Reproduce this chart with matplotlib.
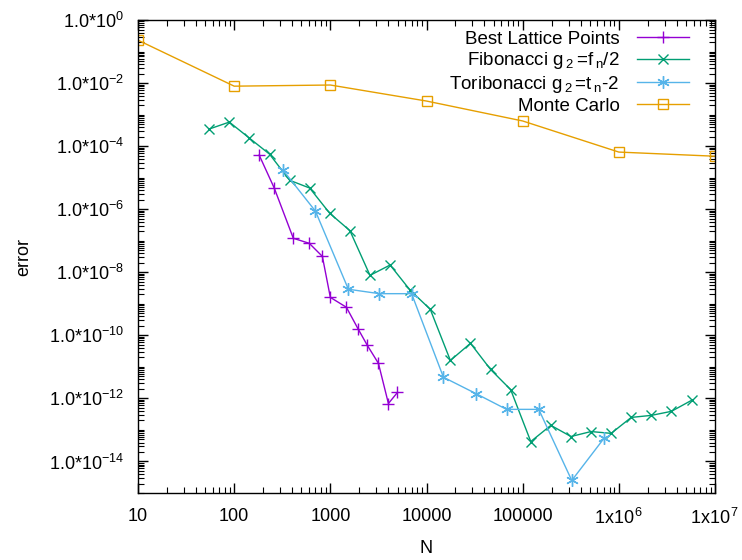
import matplotlib
matplotlib.use("Agg")
import matplotlib.pyplot as plt
import matplotlib.ticker as ticker
import numpy as np

plt.rcParams['font.family'] = ['Liberation Sans', 'DejaVu Sans']
plt.rcParams['mathtext.fontset'] = 'custom'
plt.rcParams['mathtext.rm'] = 'Liberation Sans'
plt.rcParams['mathtext.it'] = 'Liberation Sans'

# best lattice points
n_best = [182, 261, 412, 604, 826, 1000, 1468, 1955, 2426, 3162, 4017, 4990]
err_best = [5.2e-5, 4.7e-6, 1.2e-7, 8.3e-8, 3.2e-8, 1.6e-9, 7.8e-10, 1.55e-10,
            4.8e-11, 1.3e-11, 6.9e-13, 1.55e-12]

# fibonacci
n_fib = [55, 89, 144, 233, 377, 610, 987, 1597, 2584, 4181, 6765, 10946, 17711,
         28657, 46368, 75025, 121393, 196418, 317811, 514229, 832040, 1346269,
         2178309, 3524578, 5702887]
err_fib = [3.5e-4, 5.8e-4, 1.8e-4, 5.6e-5, 8.3e-6, 4.7e-6, 7.4e-7, 2.1e-7, 8e-9,
           1.7e-8, 2.7e-9, 6.7e-10, 1.6e-11, 5.6e-11, 8.3e-12, 1.9e-12, 4.3e-14,
           1.4e-13, 6.2e-14, 8.9e-14, 7.8e-14, 2.5e-13, 2.9e-13, 3.9e-13, 8.7e-13]

# toribonacci
n_tri = [324, 700, 1540, 3240, 7000, 15000, 33000, 68000, 147000, 324000, 700000]
err_tri = [1.7e-5, 8.7e-7, 2.9e-9, 2.1e-9, 2.1e-9, 4.7e-12, 1.4e-12, 4.5e-13,
           4.5e-13, 2.5e-15, 5.4e-14]

# monte carlo
n_mc = [10, 100, 1000, 10000, 100000, 1000000, 10000000]
err_mc = [0.23, 0.008, 0.0087, 0.0027, 6.3e-4, 6.5e-5, 4.8e-5]

fig = plt.figure(figsize=(7.42, 5.6), dpi=100)
ax = fig.add_axes([0.186, 0.1196, 0.7776, 0.8446])

ax.plot(n_best, err_best, color='#9400d3', marker='+', ms=9, mew=1, lw=1,
        label='Best Lattice Points')
ax.plot(n_fib, err_fib, color='#009e73', marker='x', ms=7, mew=1, lw=1,
        label=r'Fibonacci g$\,_{2}\,$=f$\,_{n}$/2')
ax.plot(n_tri, err_tri, color='#56b4e9', marker=(6, 2, 0), ms=9, mew=1, lw=1,
        label=r'Toribonacci g$\,_{2}\,$=t$\,_{n}$-2')
ax.plot(n_mc, err_mc, color='#e69f00', marker='s', ms=7, mfc='none', mew=1,
        lw=1, label='Monte Carlo')

ax.set_xscale('log')
ax.set_yscale('log')
ax.set_xlim(10, 1e7)
ax.set_ylim(1e-15, 1)

x_ticks = [10, 100, 1000, 10000, 100000, 1e6, 1e7]
x_tick_labels = ['10', '100', '1000', '10000', '100000',
                 r'1x10$^{\,6}$', r'1x10$^{\,7}$']
ax.xaxis.set_major_locator(ticker.FixedLocator(x_ticks))
ax.xaxis.set_major_formatter(ticker.FixedFormatter(x_tick_labels))
ax.xaxis.set_minor_locator(ticker.LogLocator(base=10, subs=np.arange(2, 10), numticks=50))
ax.xaxis.set_minor_formatter(ticker.NullFormatter())

y_ticks = [10.0 ** e for e in range(0, -15, -2)]
y_tick_labels = [r'1.0*10$^{%d}$' % e for e in range(0, -15, -2)]
ax.yaxis.set_major_locator(ticker.FixedLocator(y_ticks))
ax.yaxis.set_major_formatter(ticker.FixedFormatter(y_tick_labels))
ax.yaxis.set_minor_locator(ticker.LogLocator(base=10, subs=np.arange(1, 10), numticks=50))
ax.yaxis.set_minor_formatter(ticker.NullFormatter())

ax.tick_params(which='both', direction='in', top=True, right=True, labelsize=13)
ax.tick_params(which='major', length=7, width=1)
ax.tick_params(which='minor', length=4, width=0.8)
ax.tick_params(axis='x', pad=11)
ax.tick_params(axis='y', pad=10)
for s in ax.spines.values():
    s.set_linewidth(1)

ax.set_xlabel('N', fontsize=13, labelpad=8)
ax.set_ylabel('error', fontsize=13, labelpad=12)

ax.legend(loc='upper right', frameon=False, markerfirst=False, fontsize=13.5,
          handlelength=2.8, handletextpad=0.9, labelspacing=0.14,
          borderpad=0, borderaxespad=0, numpoints=1,
          bbox_to_anchor=(0.955, 0.978))

fig.savefig('out.png', dpi=100)
